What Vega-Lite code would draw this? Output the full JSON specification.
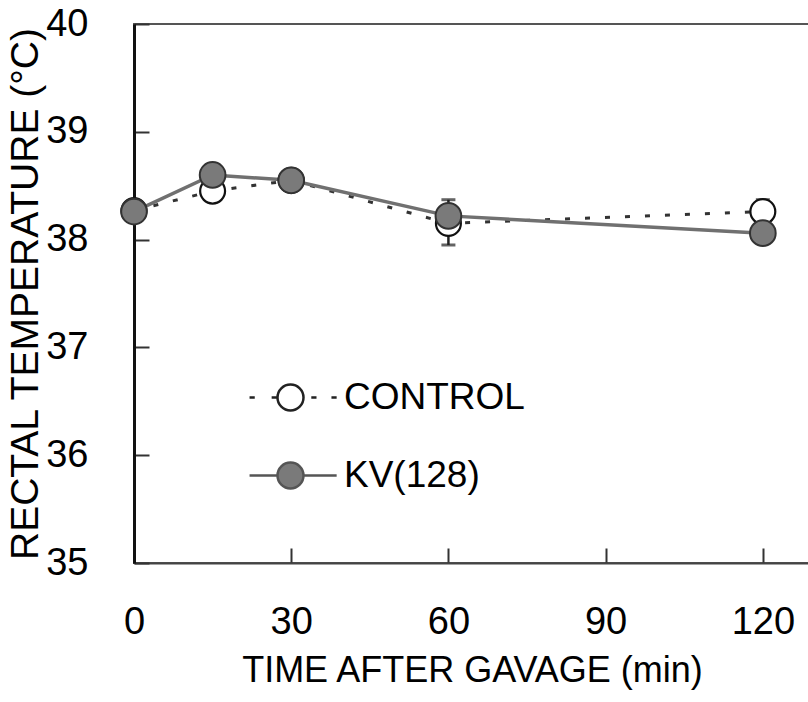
{
  "$schema": "https://vega.github.io/schema/vega-lite/v6.json",
  "width": 676,
  "height": 539,
  "autosize": {"type": "none"},
  "padding": {"left": 134, "top": 24, "right": 0, "bottom": 139},
  "background": "white",
  "config": {
    "font": "Liberation Sans",
    "view": {"stroke": "#555", "strokeWidth": 2},
    "axis": {"grid": false, "labelFont": "Liberation Sans", "titleFont": "Liberation Sans", "labelColor": "black", "titleColor": "black", "titleFontWeight": "normal", "labelFlush": false, "labelOverlap": false}
  },
  "data": {
    "values": [
      {"time": 0, "series": "CONTROL", "temp": 38.27},
      {"time": 15, "series": "CONTROL", "temp": 38.45},
      {"time": 30, "series": "CONTROL", "temp": 38.55},
      {"time": 60, "series": "CONTROL", "temp": 38.15, "lo": 37.95, "hi": 38.37},
      {"time": 120, "series": "CONTROL", "temp": 38.26, "lo": 38.15, "hi": 38.37},
      {"time": 0, "series": "KV(128)", "temp": 38.26},
      {"time": 15, "series": "KV(128)", "temp": 38.6},
      {"time": 30, "series": "KV(128)", "temp": 38.55},
      {"time": 60, "series": "KV(128)", "temp": 38.22},
      {"time": 120, "series": "KV(128)", "temp": 38.06}
    ]
  },
  "encoding": {
    "x": {
      "field": "time", "type": "quantitative",
      "scale": {"domain": [0, 129], "nice": false, "zero": false},
      "axis": {"values": [0, 30, 60, 90, 120], "title": "TIME AFTER GAVAGE (min)", "tickSize": -15, "tickColor": "#333", "tickWidth": 2, "domainColor": "#444", "domainWidth": 2, "labelFontSize": 38, "labelPadding": 55, "titleFontSize": 36, "titlePadding": 12}
    },
    "y": {
      "field": "temp", "type": "quantitative",
      "scale": {"domain": [35, 40], "nice": false, "zero": false},
      "axis": {"values": [35, 36, 37, 38, 39, 40], "title": "RECTAL TEMPERATURE (°C)", "tickSize": -15, "tickColor": "#333", "tickWidth": 2, "domainColor": "#111", "domainWidth": 3, "labelFontSize": 38, "labelPadding": 61, "titleFontSize": 39, "titlePadding": 0}
    }
  },
  "layer": [
    {
      "transform": [{"filter": "isValid(datum.lo)"}],
      "mark": {"type": "rule", "color": "#222", "strokeWidth": 2.5},
      "encoding": {"y": {"field": "lo", "type": "quantitative"}, "y2": {"field": "hi"}}
    },
    {
      "transform": [{"filter": "isValid(datum.lo)"}],
      "mark": {"type": "tick", "orient": "horizontal", "size": 14, "thickness": 3, "color": "#222"},
      "encoding": {"y": {"field": "lo", "type": "quantitative"}}
    },
    {
      "transform": [{"filter": "isValid(datum.hi)"}],
      "mark": {"type": "tick", "orient": "horizontal", "size": 14, "thickness": 3, "color": "#222"},
      "encoding": {"y": {"field": "hi", "type": "quantitative"}}
    },
    {
      "transform": [{"filter": "datum.series === 'CONTROL'"}],
      "mark": {"type": "line", "color": "#333", "strokeWidth": 3, "strokeDash": [5, 15]},
      "encoding": {}
    },
    {
      "transform": [{"filter": "datum.series === 'KV(128)'"}],
      "mark": {"type": "line", "color": "#707070", "strokeWidth": 3.5},
      "encoding": {}
    },
    {
      "transform": [{"filter": "datum.series === 'CONTROL'"}],
      "mark": {"type": "point", "shape": "circle", "size": 620, "filled": false, "fill": "white", "stroke": "#111", "strokeWidth": 2.2, "opacity": 1},
      "encoding": {}
    },
    {
      "transform": [{"filter": "datum.series === 'KV(128)'"}],
      "mark": {"type": "point", "shape": "circle", "size": 660, "filled": true, "fill": "#7a7a7a", "stroke": "#333", "strokeWidth": 2, "opacity": 1},
      "encoding": {}
    },
    {
      "transform": [{"filter": "false"}],
      "mark": {"type": "point", "filled": true, "size": 676, "strokeWidth": 2},
      "encoding": {
        "shape": {
          "field": "series", "type": "nominal",
          "scale": {"domain": ["CONTROL", "KV(128)"], "range": ["M-3.15,0L-2.75,0M-1.45,0L-1.05,0M1.6,0L2,0M3.15,0L3.55,0M-1,0A1,1,0,1,1,1,0A1,1,0,1,1,-1,0Z", "M-3.15,0L-1,0M1,0L3.55,0M-1,0A1,1,0,1,1,1,0A1,1,0,1,1,-1,0Z"]},
          "legend": {"title": null, "orient": "none", "legendX": 138, "legendY": 355, "labelFontSize": 37, "labelFont": "Liberation Sans", "labelColor": "black", "labelLimit": 0, "labelOffset": 35, "rowPadding": 40, "padding": 0, "symbolSize": 676, "symbolOpacity": 1, "symbolStrokeWidth": 2.5}
        },
        "fill": {
          "field": "series", "type": "nominal",
          "scale": {"domain": ["CONTROL", "KV(128)"], "range": ["white", "#7a7a7a"]},
          "legend": {"title": null, "orient": "none", "legendX": 138, "legendY": 355, "labelFontSize": 37, "labelFont": "Liberation Sans", "labelColor": "black", "labelLimit": 0, "labelOffset": 35, "rowPadding": 40, "padding": 0, "symbolSize": 676, "symbolOpacity": 1, "symbolStrokeWidth": 2.5}
        },
        "stroke": {
          "field": "series", "type": "nominal",
          "scale": {"domain": ["CONTROL", "KV(128)"], "range": ["#222", "#555"]},
          "legend": {"title": null, "orient": "none", "legendX": 138, "legendY": 355, "labelFontSize": 37, "labelFont": "Liberation Sans", "labelColor": "black", "labelLimit": 0, "labelOffset": 35, "rowPadding": 40, "padding": 0, "symbolSize": 676, "symbolOpacity": 1, "symbolStrokeWidth": 2.5}
        }
      }
    }
  ]
}
